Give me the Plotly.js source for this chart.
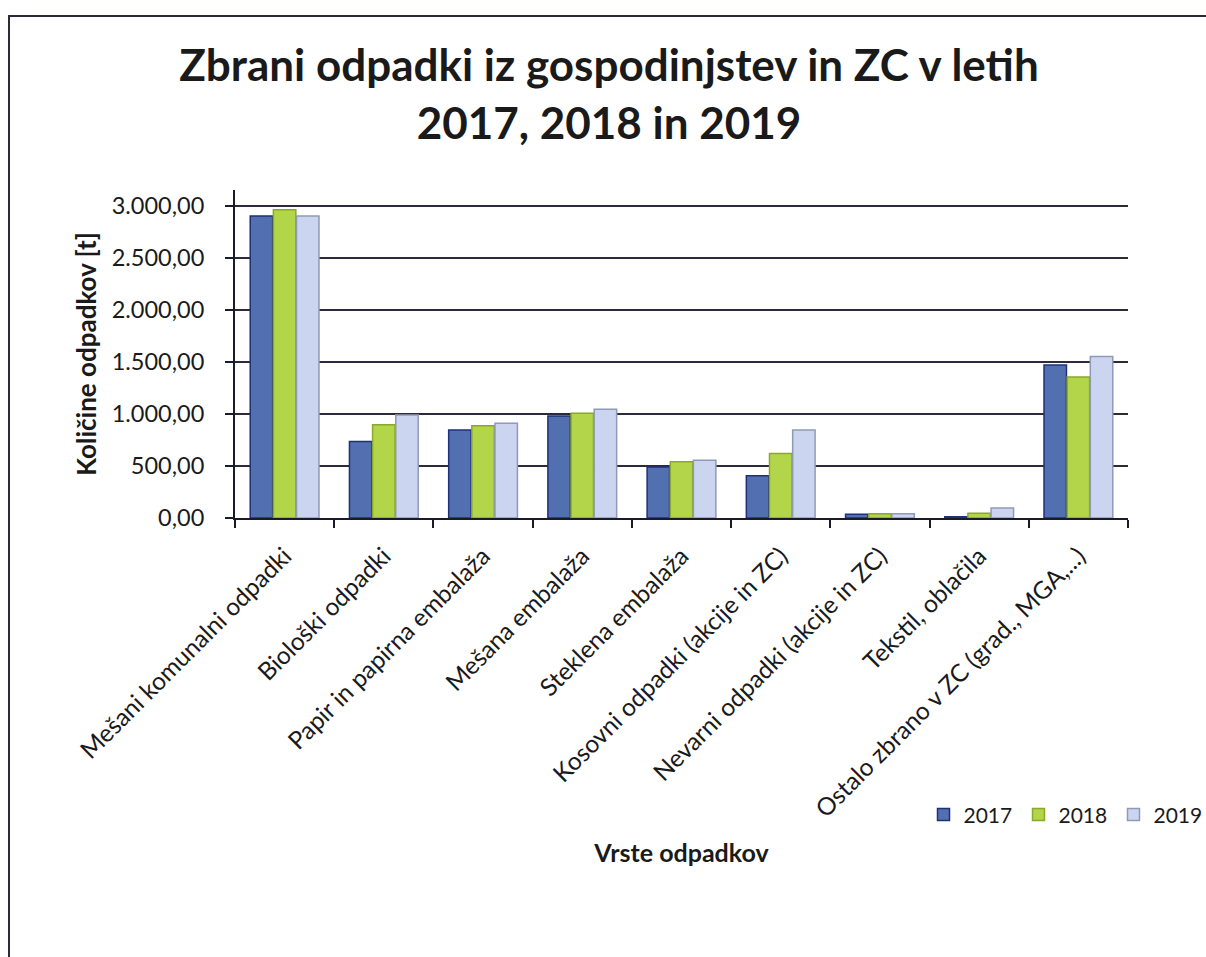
<!DOCTYPE html>
<html>
<head>
<meta charset="utf-8">
<script src="https://cdn.plot.ly/plotly-3.0.1.min.js"></script>
<style>
  html, body { margin: 0; padding: 0; background: #ffffff; }
  #wrap { position: relative; width: 1206px; height: 957px; }
  #frame { position: absolute; left: 8px; top: 15px; width: 1198px; height: 942px;
           border-left: 2px solid #2a2a3a; border-top: 2px solid #2a2a3a; pointer-events: none; z-index: 5; }
  #chart { position: absolute; left: 0; top: 0; width: 1206px; height: 957px; }
</style>
</head>
<body>
<div id="wrap">
  <div id="chart"></div>
  <div id="frame"></div>
</div>
<script>
const categories = [
  "Mešani komunalni odpadki",
  "Biološki odpadki",
  "Papir in papirna embalaža",
  "Mešana embalaža",
  "Steklena embalaža",
  "Kosovni odpadki (akcije in ZC)",
  "Nevarni odpadki (akcije in ZC)",
  "Tekstil, oblačila",
  "Ostalo zbrano v ZC (grad., MGA,...)"
];
const years = ["2017", "2018", "2019"];
const values2017 = [2900, 735, 845, 980, 490, 405, 35, 12, 1470];
const values2018 = [2960, 895, 885, 1005, 540, 620, 40, 45, 1355];
const values2019 = [2900, 990, 910, 1045, 555, 845, 40, 95, 1550];
const yTicks = [0, 500, 1000, 1500, 2000, 2500, 3000];

const fillColors = ["#5270b0", "#b3d54a", "#cbd5ef"];
const lineColors = ["#1f2f7a", "#8aa82a", "#8f9ab8"];
const seriesValues = [values2017, values2018, values2019];

const fontFam = "Lato, 'Open Sans', 'DejaVu Sans', sans-serif";

const traces = years.map((yr, i) => ({
  type: "bar",
  name: yr,
  x: categories,
  y: seriesValues[i],
  marker: { color: fillColors[i], line: { color: lineColors[i], width: 1.5 } },
  hoverinfo: "x+y+name"
}));

const layout = {
  width: 1206,
  height: 957,
  paper_bgcolor: "#ffffff",
  plot_bgcolor: "#ffffff",
  separators: ",.",
  font: { family: fontFam, color: "#1a1a1a" },
  margin: { l: 235, r: 78, t: 190, b: 439, autoexpand: false },
  title: {
    text: "<b>Zbrani odpadki iz gospodinjstev in ZC v letih<br>2017, 2018 in 2019</b>",
    font: { family: fontFam, size: 44, color: "#1a1a1a" },
    x: 0.505, xanchor: "center",
    y: 0.915, yanchor: "top",
    xref: "container", yref: "container"
  },
  barmode: "group",
  bargap: 0.3,
  bargroupgap: 0.03,
  showlegend: true,
  legend: {
    orientation: "h",
    x: 0.771, xanchor: "left",
    y: -0.905, yanchor: "middle",
    font: { family: fontFam, size: 21, color: "#1a1a1a" },
    itemwidth: 30,
    entrywidth: 50,
    entrywidthmode: "pixels",
    traceorder: "normal"
  },
  xaxis: {
    type: "category",
    tickangle: -45,
    tickfont: { family: fontFam, size: 24.5, color: "#1a1a1a" },
    ticklabelstandoff: 12,
    showline: true,
    linecolor: "#1a1a2a",
    linewidth: 2,
    ticks: "outside",
    tickson: "boundaries",
    ticklen: 8,
    tickwidth: 2,
    tickcolor: "#1a1a2a",
    showgrid: false,
    title: {
      text: "<b>Vrste odpadkov</b>",
      font: { family: fontFam, size: 25, color: "#1a1a1a" },
      standoff: 23
    },
    automargin: false
  },
  yaxis: {
    range: [0, 3150],
    tickvals: yTicks,
    tickformat: ",.2f",
    tickfont: { family: fontFam, size: 23.5, color: "#1a1a1a" },
    ticklabelstandoff: 16,
    showline: true,
    linecolor: "#1a1a2a",
    linewidth: 2,
    ticks: "outside",
    ticklen: 8,
    tickwidth: 2,
    tickcolor: "#1a1a2a",
    showgrid: true,
    gridcolor: "#2a2a3a",
    gridwidth: 2,
    zeroline: false,
    title: {
      text: "<b>Količine odpadkov [t]</b>",
      font: { family: fontFam, size: 26, color: "#1a1a1a" },
      standoff: 8
    },
    automargin: false
  }
};

Plotly.newPlot("chart", traces, layout, { displayModeBar: false, staticPlot: true });
</script>
</body>
</html>
